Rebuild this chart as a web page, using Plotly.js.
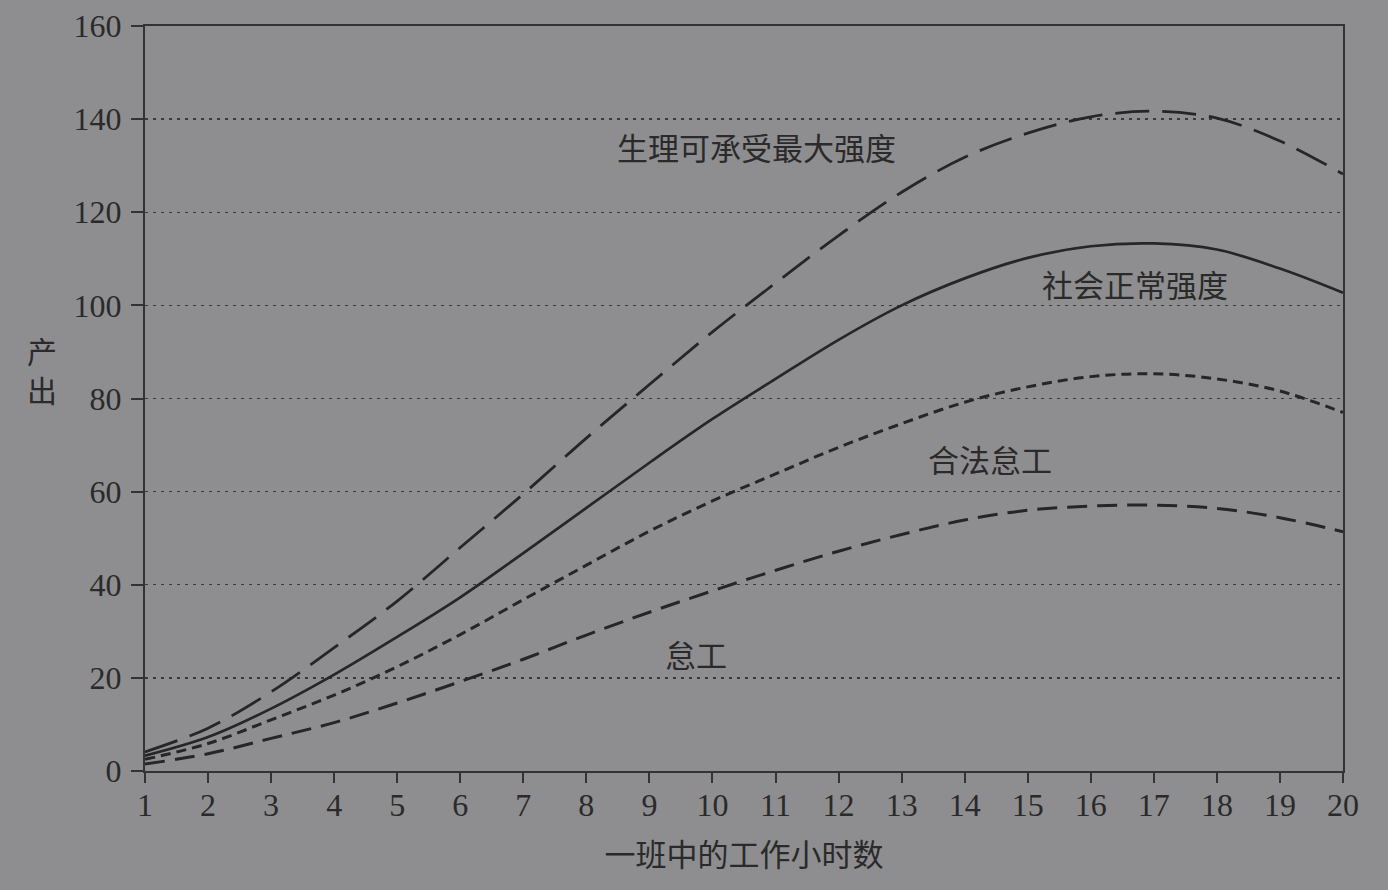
<!DOCTYPE html>
<html>
<head>
<meta charset="utf-8">
<script src="https://cdn.plot.ly/plotly-3.0.1.min.js"></script>
<style>html,body{margin:0;padding:0;background:#8e8e90;}#chart{width:1388px;height:890px;}</style>
</head>
<body>
<div id="chart"></div>
<script>
const hours = [1,2,3,4,5,6,7,8,9,10,11,12,13,14,15,16,17,18,19,20];
const maxIntensity = [4.1,9.2,17,26.5,36.5,48,59.5,71.5,83,94.3,104.8,115,124.3,131.8,137,140.5,141.7,140.2,135.3,128.2];
const normalIntensity = [3.3,7.3,13.4,20.7,28.8,37.3,46.8,56.5,66.2,75.6,84.2,92.6,100,105.8,110.2,112.7,113.3,112,107.9,102.7];
const legalShirking = [2.5,5.9,11,16.3,22.4,29.3,36.8,44.2,51.5,58,63.8,69.5,74.6,79.2,82.5,84.7,85.3,84.2,81.6,77];
const shirking = [1.5,3.7,7,10.4,14.6,19.2,24,29.2,34.1,38.7,43.1,47.2,50.8,53.9,56,56.9,57.1,56.4,54.4,51.4];
const seriesNames = ["生理可承受最大强度","社会正常强度","合法怠工","怠工"];
const yTicks = [0,20,40,60,80,100,120,140,160];

const ink = "#262626";
const txt = "#2a2a2a";
const cjk = "'Liberation Serif', 'Noto Sans CJK SC', serif";
const num = "'Liberation Serif', serif";

const traces = [
  {x: hours, y: maxIntensity, name: seriesNames[0], mode: "lines", line: {color: ink, width: 2.8, dash: "34px,13px", shape: "spline"}},
  {x: hours, y: normalIntensity, name: seriesNames[1], mode: "lines", line: {color: ink, width: 2.7, shape: "spline"}},
  {x: hours, y: legalShirking, name: seriesNames[2], mode: "lines", line: {color: ink, width: 3, dash: "10px,6px", shape: "spline"}},
  {x: hours, y: shirking, name: seriesNames[3], mode: "lines", line: {color: ink, width: 3, dash: "20px,10px", shape: "spline"}}
];

const layout = {
  width: 1388, height: 890,
  paper_bgcolor: "#8e8e90", plot_bgcolor: "#8e8e90",
  margin: {l: 145, r: 45, t: 26, b: 119},
  showlegend: false,
  font: {family: cjk, color: txt, size: 30},
  xaxis: {
    range: [1, 20], tickvals: hours, ticks: "outside", ticklen: 10, tickwidth: 2, tickcolor: "#333",
    showline: true, linecolor: "#333", linewidth: 2, mirror: true, showgrid: false, zeroline: false,
    tickfont: {family: num, size: 32, color: txt}, ticklabelstandoff: -5,
    title: {text: "一班中的工作小时数", font: {family: cjk, size: 31, color: txt}, standoff: 22}
  },
  yaxis: {
    range: [0, 160], tickvals: yTicks, ticks: "outside", ticklen: 12, tickwidth: 2, tickcolor: "#333",
    showline: true, linecolor: "#333", linewidth: 2, mirror: true,
    showgrid: true, gridcolor: "#3a3a3a", griddash: "3px,5px", gridwidth: 1.3, zeroline: false,
    tickfont: {family: num, size: 32, color: txt}, ticklabelstandoff: 3
  },
  annotations: [
    {text: "产<br>出", xref: "paper", yref: "paper", x: -0.1, y: 0.535, showarrow: false, font: {family: cjk, size: 30, color: txt}, align: "center"},
    {text: seriesNames[0], x: 10.7, y: 133.5, showarrow: false, font: {family: cjk, size: 31, color: txt}},
    {text: seriesNames[1], x: 16.7, y: 104, showarrow: false, font: {family: cjk, size: 31, color: txt}},
    {text: seriesNames[2], x: 14.4, y: 66.4, showarrow: false, font: {family: cjk, size: 31, color: txt}},
    {text: seriesNames[3], x: 9.74, y: 24.6, showarrow: false, font: {family: cjk, size: 31, color: txt}}
  ]
};

Plotly.newPlot("chart", traces, layout, {displayModeBar: false, staticPlot: true});
</script>
</body>
</html>
